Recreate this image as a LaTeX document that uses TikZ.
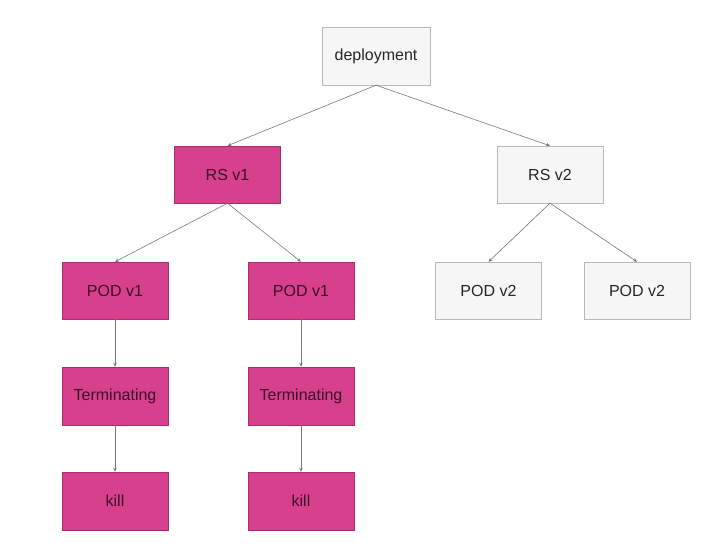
\documentclass[tikz,border=0pt]{standalone}
\usepackage{fontspec}
\setmainfont{Liberation Sans}
\usepackage{xcolor}
\usepackage{tikz}
\usetikzlibrary{arrows.meta}

\definecolor{podpink}{RGB}{215,64,141}
\definecolor{podedge}{RGB}{170,45,110}
\definecolor{podtext}{RGB}{60,12,40}
\definecolor{newfill}{RGB}{246,246,246}
\definecolor{newedge}{RGB}{185,185,185}
\definecolor{linkgray}{RGB}{120,120,120}

\tikzset{
	oldbox/.style = {draw = podedge, fill = podpink, text = podtext, minimum width = 106pt, minimum height = 57pt, inner sep = 0pt, font = \fontsize{16}{19}\selectfont},
	newbox/.style = {draw = newedge, fill = newfill, text = black!85, minimum width = 106pt, minimum height = 57pt, inner sep = 0pt, font = \fontsize{16}{19}\selectfont},
	link/.style = {draw = linkgray, line width = 0.6pt, -{Stealth[length = 4pt, width = 3.5pt]}}
}

\begin{document}
\begin{tikzpicture}[x = 1pt, y = -1pt]
			\useasboundingbox (0,0) rectangle (717,555);
			\fill[white] (0,0) rectangle (717,555);
			
			\node[newbox, minimum width = 108pt, minimum height = 58pt] (deploy) at (376,56) {deployment};
			
			\node[oldbox] (rsone) at (227.5,174.5) {RS v1};
			\node[newbox] (rstwo) at (550,174.5) {RS v2};
			
			\node[oldbox] (podonea) at (115,290.5) {POD v1};
			\node[oldbox] (podoneb) at (301,290.5) {POD v1};
			\node[newbox] (podtwoa) at (488.5,290.5) {POD v2};
			\node[newbox] (podtwob) at (637,290.5) {POD v2};
			
			\node[oldbox, minimum height = 58pt] (terma) at (115,396) {Terminating};
			\node[oldbox, minimum height = 58pt] (termb) at (301,396) {Terminating};
			
			\node[oldbox, minimum height = 58pt] (killa) at (115,501) {kill};
			\node[oldbox, minimum height = 58pt] (killb) at (301,501) {kill};
			
			\draw[link] (deploy.south) -- (rsone.north);
			\draw[link] (deploy.south) -- (rstwo.north);
			
			\draw[link] (rsone.south) -- (podonea.north);
			\draw[link] (rsone.south) -- (podoneb.north);
			\draw[link] (rstwo.south) -- (podtwoa.north);
			\draw[link] (rstwo.south) -- (podtwob.north);
			
			\draw[link] (podonea.south) -- (terma.north);
			\draw[link] (podoneb.south) -- (termb.north);
			\draw[link] (terma.south) -- (killa.north);
			\draw[link] (termb.south) -- (killb.north);
		\end{tikzpicture}
\end{document}
